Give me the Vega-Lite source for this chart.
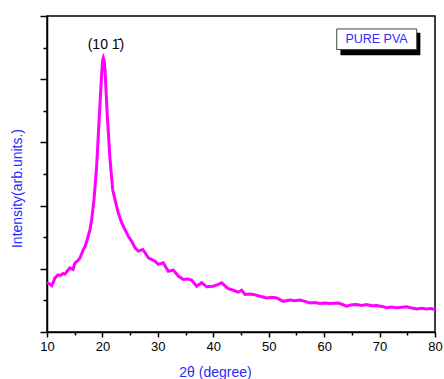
{
  "$schema": "https://vega.github.io/schema/vega-lite/v6.json",
  "width": 388,
  "height": 316,
  "autosize": {"type": "none"},
  "padding": {"left": 47, "top": 16, "right": 9, "bottom": 47},
  "background": "white",
  "config": {
    "view": {"stroke": "black", "strokeWidth": 1.5},
    "font": "Liberation Sans",
    "axis": {"grid": false, "domainColor": "black", "domainWidth": 1.5, "tickColor": "black", "tickWidth": 1.5, "labelColor": "black", "labelFont": "Liberation Sans", "labelFontSize": 13, "titleFont": "Liberation Sans", "titleFontWeight": "normal", "titleFontSize": 14, "titleColor": "#2a2aff"}
  },
  "resolve": {"axis": {"x": "independent", "y": "independent"}},
  "datasets": {
    "xrd": [
      {"t": 10.0, "i": 1.56}, {"t": 10.5, "i": 1.52}, {"t": 10.85, "i": 1.47}, {"t": 11.2, "i": 1.6}, {"t": 11.45, "i": 1.72},
      {"t": 12.0, "i": 1.81}, {"t": 12.4, "i": 1.79}, {"t": 12.9, "i": 1.85}, {"t": 13.2, "i": 1.83}, {"t": 13.5, "i": 1.89},
      {"t": 14.1, "i": 2.03}, {"t": 14.7, "i": 1.98}, {"t": 15.05, "i": 2.19}, {"t": 15.5, "i": 2.25}, {"t": 15.95, "i": 2.34},
      {"t": 16.55, "i": 2.61}, {"t": 16.9, "i": 2.72}, {"t": 17.27, "i": 2.93}, {"t": 17.76, "i": 3.24}, {"t": 18.06, "i": 3.56},
      {"t": 18.48, "i": 4.19}, {"t": 18.96, "i": 5.25}, {"t": 19.44, "i": 6.83}, {"t": 19.87, "i": 8.2}, {"t": 20.05, "i": 8.62},
      {"t": 20.16, "i": 8.68}, {"t": 20.3, "i": 8.6}, {"t": 20.46, "i": 8.31}, {"t": 20.88, "i": 6.83}, {"t": 21.37, "i": 5.46},
      {"t": 21.85, "i": 4.51}, {"t": 22.27, "i": 4.19}, {"t": 22.86, "i": 3.77}, {"t": 23.47, "i": 3.46}, {"t": 24.07, "i": 3.24},
      {"t": 24.67, "i": 3.03}, {"t": 25.28, "i": 2.87}, {"t": 25.88, "i": 2.66}, {"t": 26.47, "i": 2.56}, {"t": 27.26, "i": 2.61},
      {"t": 27.68, "i": 2.51}, {"t": 28.28, "i": 2.35}, {"t": 28.58, "i": 2.32}, {"t": 29.48, "i": 2.24}, {"t": 30.08, "i": 2.14},
      {"t": 30.98, "i": 2.19}, {"t": 31.88, "i": 1.92}, {"t": 32.79, "i": 1.96}, {"t": 33.69, "i": 1.77}, {"t": 34.59, "i": 1.66},
      {"t": 35.3, "i": 1.68}, {"t": 36.1, "i": 1.64}, {"t": 37.0, "i": 1.45}, {"t": 37.91, "i": 1.56}, {"t": 38.81, "i": 1.43},
      {"t": 40.0, "i": 1.45}, {"t": 40.8, "i": 1.5}, {"t": 41.52, "i": 1.56}, {"t": 42.1, "i": 1.46}, {"t": 42.71, "i": 1.37},
      {"t": 43.61, "i": 1.32}, {"t": 44.51, "i": 1.26}, {"t": 45.12, "i": 1.32}, {"t": 45.72, "i": 1.19}, {"t": 46.5, "i": 1.2},
      {"t": 47.22, "i": 1.19}, {"t": 48.43, "i": 1.13}, {"t": 49.64, "i": 1.08}, {"t": 50.5, "i": 1.1}, {"t": 51.44, "i": 1.08},
      {"t": 52.63, "i": 0.97}, {"t": 53.84, "i": 1.01}, {"t": 54.7, "i": 0.99}, {"t": 55.64, "i": 1.01}, {"t": 56.55, "i": 0.97},
      {"t": 57.45, "i": 0.92}, {"t": 58.3, "i": 0.93}, {"t": 59.25, "i": 0.9}, {"t": 60.1, "i": 0.92}, {"t": 61.06, "i": 0.9},
      {"t": 62.55, "i": 0.92}, {"t": 63.3, "i": 0.87}, {"t": 64.07, "i": 0.82}, {"t": 65.0, "i": 0.86}, {"t": 65.87, "i": 0.87},
      {"t": 66.8, "i": 0.84}, {"t": 67.68, "i": 0.87}, {"t": 68.6, "i": 0.83}, {"t": 69.48, "i": 0.84}, {"t": 70.4, "i": 0.81},
      {"t": 71.28, "i": 0.77}, {"t": 72.2, "i": 0.79}, {"t": 73.09, "i": 0.77}, {"t": 74.0, "i": 0.78}, {"t": 74.89, "i": 0.8},
      {"t": 75.8, "i": 0.76}, {"t": 76.7, "i": 0.73}, {"t": 77.6, "i": 0.75}, {"t": 78.5, "i": 0.73}, {"t": 79.3, "i": 0.74},
      {"t": 80.0, "i": 0.71}
    ]
  },
  "layer": [
    {
      "data": {"name": "xrd"},
      "mark": {"type": "line", "color": "#ff00ff", "strokeWidth": 3, "clip": true},
      "encoding": {
        "x": {"field": "t", "type": "quantitative", "scale": {"domain": [10, 80], "nice": false, "zero": false},
          "axis": {"title": "2θ (degree)", "orient": "bottom", "values": [10, 20, 30, 40, 50, 60, 70, 80], "tickSize": 5, "labelPadding": 3, "titleX": 168, "titleY": 33, "labelFlush": false}},
        "y": {"field": "i", "type": "quantitative", "scale": {"domain": [0, 10], "nice": false},
          "axis": {"title": "Intensity(arb.units.)", "orient": "left", "values": [0, 2, 4, 6, 8, 10], "labels": false, "tickSize": 7, "titleX": -23, "titleY": 172}}
      }
    },
    {
      "data": {"values": [{"mt": 15, "mi": 1}, {"mt": 25, "mi": 3}, {"mt": 35, "mi": 5}, {"mt": 45, "mi": 7}, {"mt": 55, "mi": 9}, {"mt": 65, "mi": 9}, {"mt": 75, "mi": 9}]},
      "mark": {"type": "point", "opacity": 0},
      "encoding": {
        "x": {"field": "mt", "type": "quantitative", "scale": {"domain": [10, 80], "nice": false, "zero": false},
          "axis": {"title": null, "orient": "bottom", "values": [15, 25, 35, 45, 55, 65, 75], "labels": false, "tickSize": 3, "domain": false}},
        "y": {"field": "mi", "type": "quantitative", "scale": {"domain": [0, 10], "nice": false},
          "axis": {"title": null, "orient": "left", "values": [1, 3, 5, 7, 9], "labels": false, "tickSize": 4, "domain": false}}
      }
    },
    {
      "data": {"values": [{"x1": 62.94, "x2": 77.36, "y1": 9.47, "y2": 8.76}]},
      "mark": {"type": "rect", "color": "black"},
      "encoding": {
        "x": {"field": "x1", "type": "quantitative", "axis": null},
        "x2": {"field": "x2"},
        "y": {"field": "y1", "type": "quantitative", "axis": null},
        "y2": {"field": "y2"}
      }
    },
    {
      "data": {"values": [{"x1": 62.27, "x2": 76.7, "y1": 9.59, "y2": 8.94}]},
      "mark": {"type": "rect", "fill": "white", "stroke": "#444444", "strokeWidth": 1},
      "encoding": {
        "x": {"field": "x1", "type": "quantitative", "axis": null},
        "x2": {"field": "x2"},
        "y": {"field": "y1", "type": "quantitative", "axis": null},
        "y2": {"field": "y2"}
      }
    },
    {
      "data": {"values": [{"lx": 69.45, "ly": 9.27, "label": "PURE PVA"}]},
      "mark": {"type": "text", "color": "#2a2aff", "fontSize": 12.5, "font": "Liberation Sans", "baseline": "middle", "align": "center"},
      "encoding": {
        "x": {"field": "lx", "type": "quantitative", "axis": null},
        "y": {"field": "ly", "type": "quantitative", "axis": null},
        "text": {"field": "label"}
      }
    },
    {
      "data": {"values": [{"lx": 20.64, "ly": 9.07, "label": "(10  1̄)"}]},
      "mark": {"type": "text", "color": "black", "fontSize": 14, "font": "Liberation Sans", "baseline": "middle", "align": "center"},
      "encoding": {
        "x": {"field": "lx", "type": "quantitative", "axis": null},
        "y": {"field": "ly", "type": "quantitative", "axis": null},
        "text": {"field": "label"}
      }
    }
  ]
}
